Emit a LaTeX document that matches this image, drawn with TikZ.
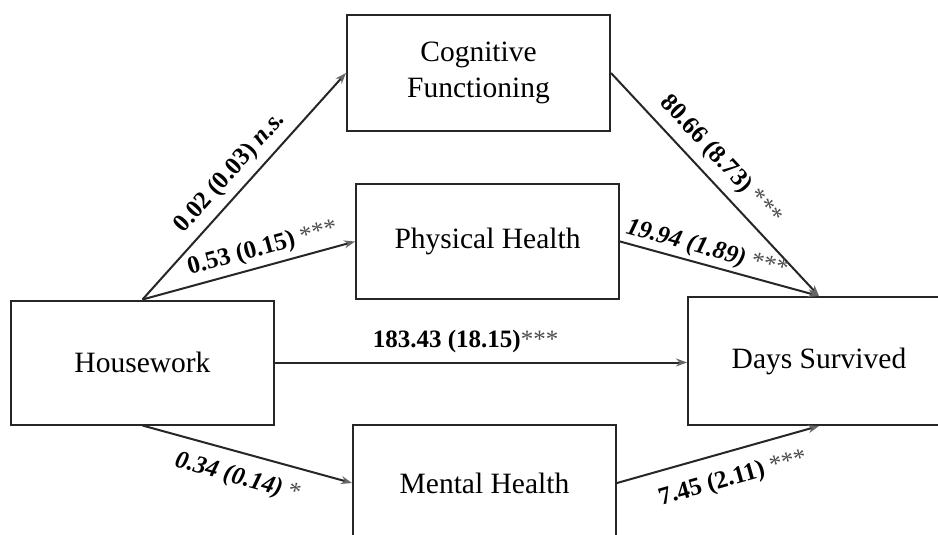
\documentclass[tikz,border=0pt]{standalone}
\usepackage{fontspec}
\setmainfont{Liberation Serif}
\usetikzlibrary{arrows.meta}
\newcommand{\sigstars}[1]{{\mdseries\upshape\color{black!70}#1}}
\begin{document}
\begin{tikzpicture}[x=1pt,y=-1pt,
  box/.style={draw=black!85, line width=2pt, minimum width=263pt, inner sep=0pt,
    align=center, font=\fontsize{29.5}{36}\selectfont},
  conn/.style={line width=2pt, draw=black!85,
    -{Stealth[length=11pt,width=8pt,color=black!60]}},
  lbl/.style={font=\fontsize{25}{30}\selectfont\bfseries, inner sep=0pt, sloped},
  lbli/.style={lbl, font=\fontsize{25}{30}\selectfont\bfseries\itshape}]
\useasboundingbox (0,0) rectangle (938,535);
\clip (0,0) rectangle (938,535);
\fill[white] (0,0) rectangle (938,535);

\node[box, minimum height=116pt] (cog) at (478.5,73) {Cognitive\\Functioning};
\node[box, minimum height=115pt] (phy) at (487.5,241.5) {Physical Health};
\node[box, minimum height=124pt] (house) at (142.5,362.5) {Housework};
\node[box, minimum width=262pt, minimum height=128pt] (days) at (819,361) {Days Survived};
\node[box, minimum height=116pt] (ment) at (484.5,483) {Mental Health};

\draw[conn] (house.north) -- node[lbl, pos=0.503, above=7pt] {0.02 (0.03) \textit{n.s.}} (cog.west);
\draw[conn] (house.north) -- node[lbl, pos=0.587, above=5pt] {0.53 (0.15) \sigstars{***}} (phy.west);
\draw[conn] (house.east) -- node[lbl, pos=0.4626, above=8.5pt] {183.43 (18.15)\sigstars{***}} (house.east -| days.west);
\draw[conn] (house.south) -- node[lbli, pos=0.487, below=13pt] {0.34 (0.14) \sigstars{*}} (ment.west);
\draw[conn] (cog.east) -- node[lbl, pos=0.455, above=8.5pt] {80.66 (8.73) \sigstars{***}} (days.north);
\draw[conn] (phy.east) -- node[lbli, pos=0.417, above=3pt] {19.94 (1.89) \sigstars{***}} (days.north);
\draw[conn] (ment.east) -- node[lbl, pos=0.538, below=15pt] {7.45 (2.11) \sigstars{***}} (days.south);
\end{tikzpicture}
\end{document}
